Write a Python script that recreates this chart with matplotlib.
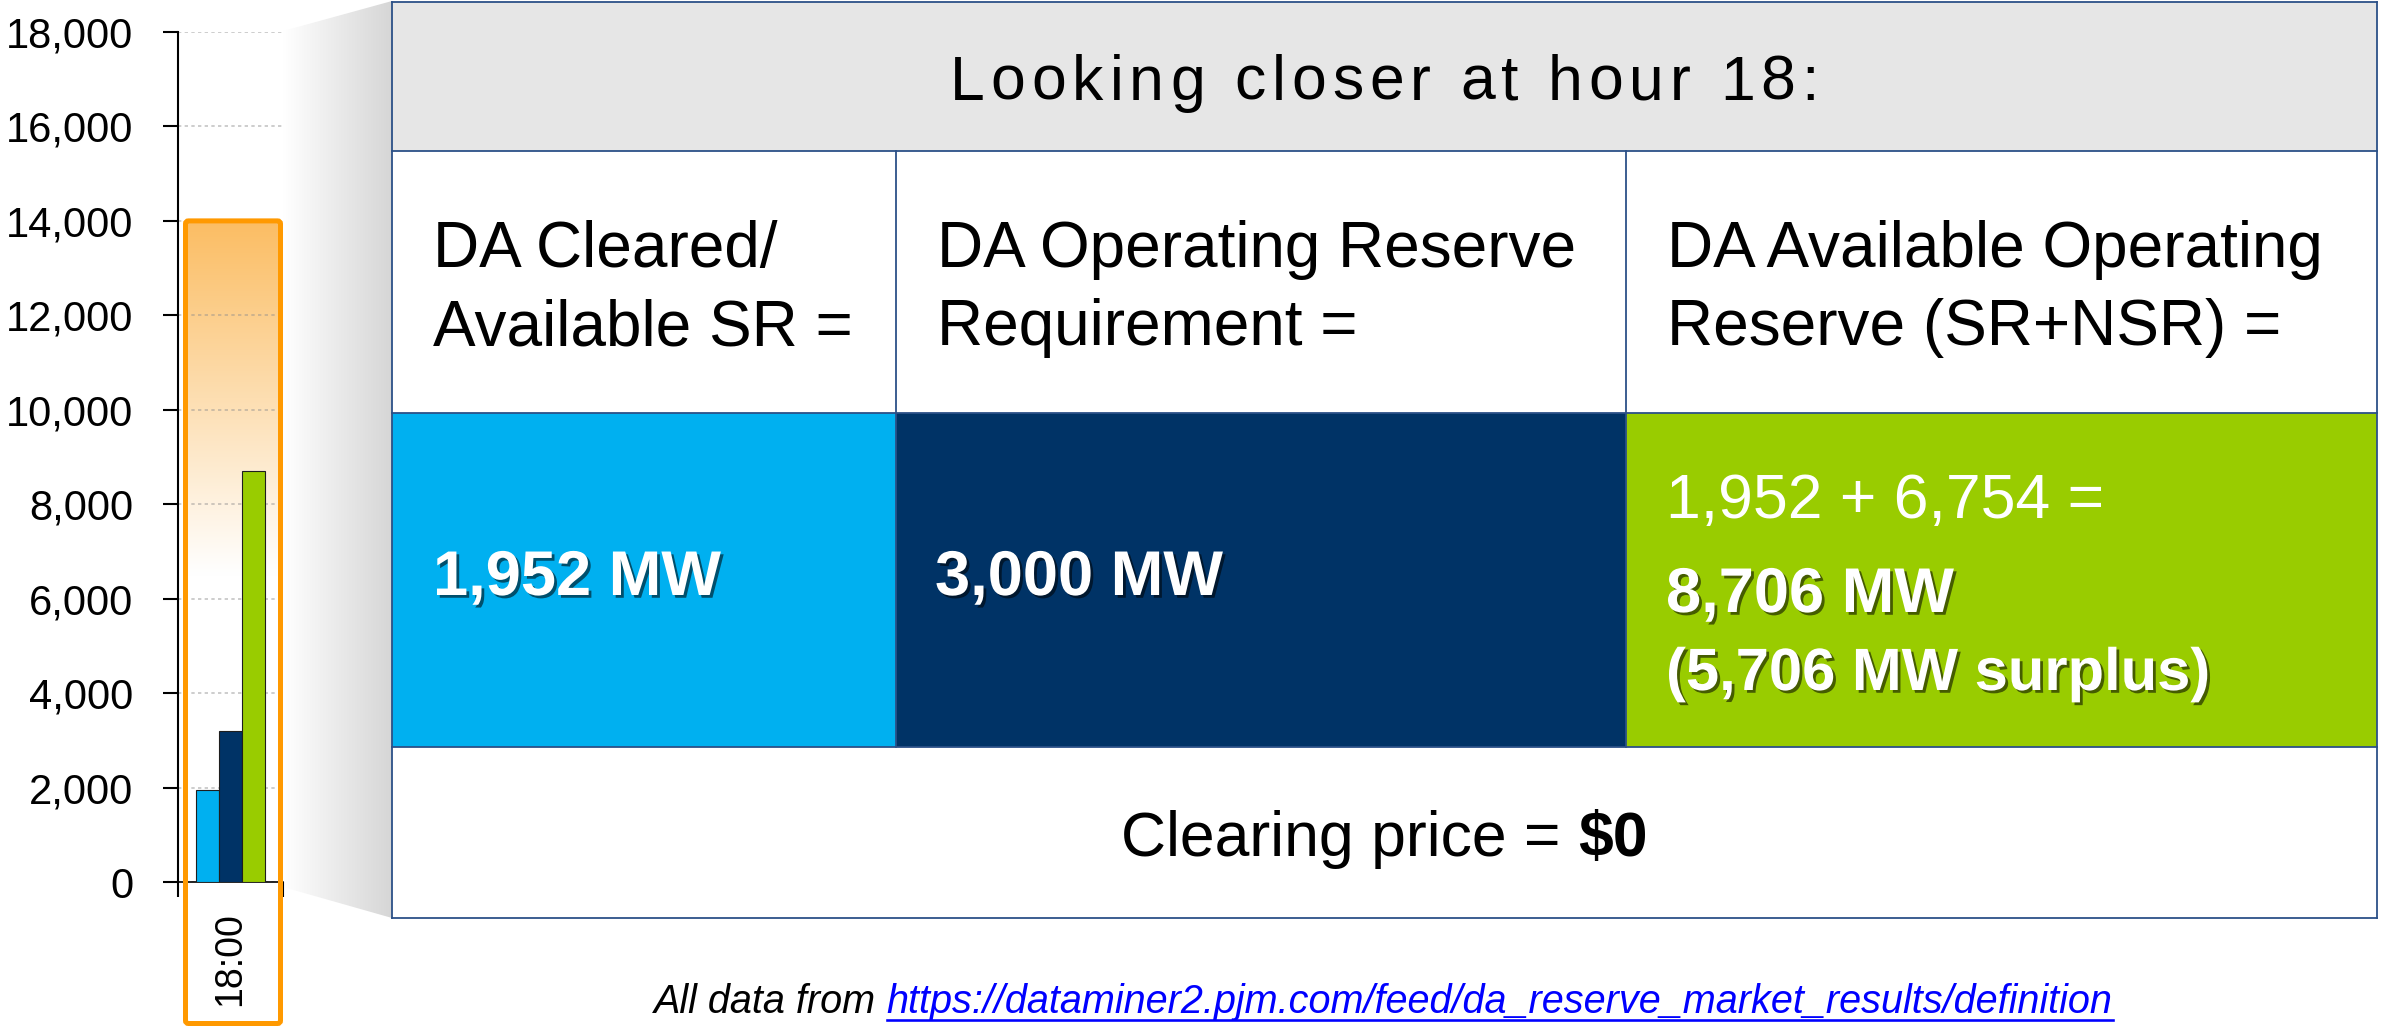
import numpy as np
import matplotlib
matplotlib.use("Agg")
import matplotlib.pyplot as plt
from matplotlib.patches import Rectangle, Polygon, FancyBboxPatch
from matplotlib.lines import Line2D
from matplotlib.colors import LinearSegmentedColormap, to_rgb
from matplotlib import patheffects as pe
from matplotlib.ticker import FuncFormatter
from matplotlib.font_manager import FontProperties

FAMILY = ['Liberation Sans', 'DejaVu Sans']
plt.rcParams['font.family'] = FAMILY

# ---------------- data ----------------
hours = ['18:00']
series_names = ['DA Cleared/Available SR',
                'DA Operating Reserve Requirement',
                'DA Available Operating Reserve (SR+NSR)']
series_values = [1952, 3190, 8706]
series_colors = ['#00B0F0', '#003366', '#99CC00']
y_ticks = [0, 2000, 4000, 6000, 8000, 10000, 12000, 14000, 16000, 18000]
highlight_top = 14000

title_text = 'Looking closer at hour 18:'
label_texts = ['DA Cleared/\nAvailable SR =',
               'DA Operating Reserve\nRequirement =',
               'DA Available Operating\nReserve (SR+NSR) =']
cleared_sr_text = '1,952 MW'
requirement_text = '3,000 MW'
available_sum_text = '1,952 + 6,754 ='
available_total_text = '8,706 MW'
available_surplus_text = '(5,706 MW surplus)'
price_label = 'Clearing price ='
price_value = '$0'
source_prefix = 'All data from'
source_url = 'https://dataminer2.pjm.com/feed/da_reserve_market_results/definition'

# ---------------- figure ----------------
W, H, DPI = 2382, 1030, 100
PT = DPI / 72.0
fig = plt.figure(figsize=(W / DPI, H / DPI), dpi=DPI)
renderer = fig.canvas.get_renderer()

bg = fig.add_axes([0, 0, 1, 1], zorder=0)
bg.axis('off')

ax_l, ax_r, ax_t, ax_b = 178, 283, 32, 882
ax = fig.add_axes([ax_l / W, 1 - ax_b / H, (ax_r - ax_l) / W, (ax_b - ax_t) / H], zorder=1)
ax.set_facecolor('none')

ov = fig.add_axes([0, 0, 1, 1], zorder=2)
ov.axis('off')
ov.patch.set_visible(False)

# ---------------- chart ----------------
n = len(series_values)
bw = 0.22
offsets = (np.arange(n) - (n - 1) / 2) * bw
for i, (v, c) in enumerate(zip(series_values, series_colors)):
    ax.bar(0 + offsets[i], v, width=bw, color=c, edgecolor='#1e1e1e',
           linewidth=0.8, zorder=3, label=series_names[i])
ax.set_xlim(-0.5, 0.5)
ax.set_ylim(0, 18000)
ax.set_yticks(y_ticks)
ax.yaxis.set_major_formatter(FuncFormatter(lambda v, p: f'{int(v):,}'))
ax.set_xticks([0])
ax.set_xticklabels(hours, rotation=90, fontsize=27)
ax.set_xticks([-0.5, 0.5], minor=True)
ax.tick_params(axis='x', which='major', length=0, pad=22)
ax.tick_params(axis='x', which='minor', length=10.8, width=1.5,
               direction='out', color='black')
ax.tick_params(axis='y', which='major', length=10.8, width=1.5,
               direction='out', pad=21.6, labelsize=30, color='black')
for s in ['top', 'right']:
    ax.spines[s].set_visible(False)
ax.spines['left'].set_linewidth(1.5)
ax.spines['bottom'].set_linewidth(1.2)
ax.yaxis.grid(True, color='#8c8c8c', alpha=0.5, linestyle=(0, (2, 2)), linewidth=1.2)
ax.set_axisbelow(True)


def data_to_px(x, y):
    X, Y = ax.transData.transform((x, y))
    return X, H - Y


# ---------------- zoom shade ----------------
shade_cmap = LinearSegmentedColormap.from_list('shade', ['#FFFFFF', '#D6D6D6'])
shade_img = bg.imshow(np.linspace(0, 1, 256)[None, :], cmap=shade_cmap,
                      extent=(283, 392, 918, 0), aspect='auto',
                      interpolation='bilinear', zorder=1)
shade_poly = Polygon([(283, 31), (392, 1), (392, 918), (283, 887)], closed=True,
                     fc='none', ec='none')
bg.add_patch(shade_poly)
shade_img.set_clip_path(shade_poly)

# ---------------- highlight box ----------------
hx0, hx1 = 185.5, 280.5
_, htop = data_to_px(0, highlight_top)
hbot = 1023.5
ys = np.linspace(htop, hbot, 400)
t = np.clip((ys - htop) / (575 - htop), 0, 1)
top_rgb = np.array(to_rgb('#FBBD63'))
grad = top_rgb[None, :] * (1 - t[:, None]) + np.ones(3)[None, :] * t[:, None]
bg.imshow(grad[:, None, :], extent=(hx0, hx1, hbot, htop), aspect='auto',
          interpolation='bilinear', zorder=2)
ov.add_patch(FancyBboxPatch((hx0, htop), hx1 - hx0, hbot - htop,
                            boxstyle='round,pad=0,rounding_size=3',
                            fc='none', ec='#FF9900', lw=5 / PT))

# ---------------- table ----------------
col_x = [392, 896, 1626, 2377]
row_y = [2, 150.5, 412.5, 746.5, 918]
line_c = '#2B5087'
line_w = 1.8 / PT
bg.add_patch(Rectangle((col_x[0], row_y[0]), col_x[-1] - col_x[0], row_y[1] - row_y[0],
                       fc='#E6E6E6', ec='none', zorder=3))
bg.add_patch(Rectangle((col_x[0], row_y[1]), col_x[-1] - col_x[0], row_y[2] - row_y[1],
                       fc='white', ec='none', zorder=3))
bg.add_patch(Rectangle((col_x[0], row_y[3]), col_x[-1] - col_x[0], row_y[4] - row_y[3],
                       fc='white', ec='none', zorder=3))
for i in range(3):
    bg.add_patch(Rectangle((col_x[i], row_y[2]), col_x[i + 1] - col_x[i], row_y[3] - row_y[2],
                           fc=series_colors[i], ec='none', zorder=3))
for yv in row_y:
    bg.add_line(Line2D([col_x[0], col_x[-1]], [yv, yv], color=line_c, lw=line_w, zorder=4))
for xv in (col_x[0], col_x[-1]):
    bg.add_line(Line2D([xv, xv], [row_y[0], row_y[-1]], color=line_c, lw=line_w, zorder=4))
for xv in col_x[1:3]:
    bg.add_line(Line2D([xv, xv], [row_y[1], row_y[3]], color=line_c, lw=line_w, zorder=4))


def text_w(s, size, weight='normal', style='normal'):
    fp = FontProperties(family=FAMILY, size=size, weight=weight, style=style)
    w, h, d = renderer.get_text_width_height_descent(s, fp, ismath=False)
    return w


# header with letter spacing
hs = 45
target_w = 869
nat_w = text_w(title_text, hs)
sp = (target_w - nat_w) / (len(title_text) - 1)
x_start = (col_x[0] + col_x[-1]) / 2 - target_w / 2
for i, ch in enumerate(title_text):
    if ch == ' ':
        continue
    xi = text_w(title_text[:i + 1], hs) - text_w(ch, hs) + i * sp
    bg.text(x_start + xi, 100, ch, fontsize=hs, ha='left', va='baseline',
            color='black', zorder=5)

# row 2 labels
for i, lab in enumerate(label_texts):
    for j, line in enumerate(lab.split('\n')):
        bg.text(col_x[i] + 41, [267, 345][j], line, fontsize=46, ha='left',
                va='baseline', color='black', zorder=5)

# row 3 values
shadow = [pe.withSimplePatchShadow(offset=(2, -2), shadow_rgbFace='black', alpha=0.55)]
bg.text(col_x[0] + 41, 595, cleared_sr_text, fontsize=45.5, fontweight='bold',
        color='white', ha='left', va='baseline', zorder=5, path_effects=shadow)
bg.text(col_x[1] + 39, 595, requirement_text, fontsize=45.5, fontweight='bold',
        color='white', ha='left', va='baseline', zorder=5, path_effects=shadow)
bg.text(col_x[2] + 40, 518, available_sum_text, fontsize=45,
        color='white', ha='left', va='baseline', zorder=5)
bg.text(col_x[2] + 40, 612, available_total_text, fontsize=45.5, fontweight='bold',
        color='white', ha='left', va='baseline', zorder=5, path_effects=shadow)
bg.text(col_x[2] + 40, 690, available_surplus_text, fontsize=43, fontweight='bold',
        color='white', ha='left', va='baseline', zorder=5, path_effects=shadow)

# row 4 clearing price
ps = 45
space_w = text_w('a a', ps) - text_w('aa', ps)
w1 = text_w(price_label, ps)
w2 = text_w(price_value, ps, weight='bold')
px0 = (col_x[0] + col_x[-1]) / 2 - (w1 + space_w + w2) / 2
bg.text(px0, 856, price_label, fontsize=ps, ha='left', va='baseline', color='black', zorder=5)
bg.text(px0 + w1 + space_w, 856, price_value, fontsize=ps, fontweight='bold',
        ha='left', va='baseline', color='black', zorder=5)

# footer
fs = 28.5
fsp = text_w('a a', fs, style='italic') - text_w('aa', fs, style='italic')
fw1 = text_w(source_prefix, fs, style='italic')
fw2 = text_w(source_url, fs, style='italic')
fx0 = 1383 - (fw1 + fsp + fw2) / 2
bg.text(fx0, 1013, source_prefix, fontsize=fs, style='italic', ha='left',
        va='baseline', color='black', zorder=5)
ux0 = fx0 + fw1 + fsp
bg.text(ux0, 1013, source_url, fontsize=fs, style='italic', ha='left',
        va='baseline', color='#0000FF', zorder=5)
bg.add_line(Line2D([ux0, ux0 + fw2], [1019.5, 1019.5], color='#0000FF', lw=2.6 / PT, zorder=5))

for a in (bg, ov):
    a.set_xlim(0, W)
    a.set_ylim(H, 0)

fig.savefig('out.png', dpi=DPI)
